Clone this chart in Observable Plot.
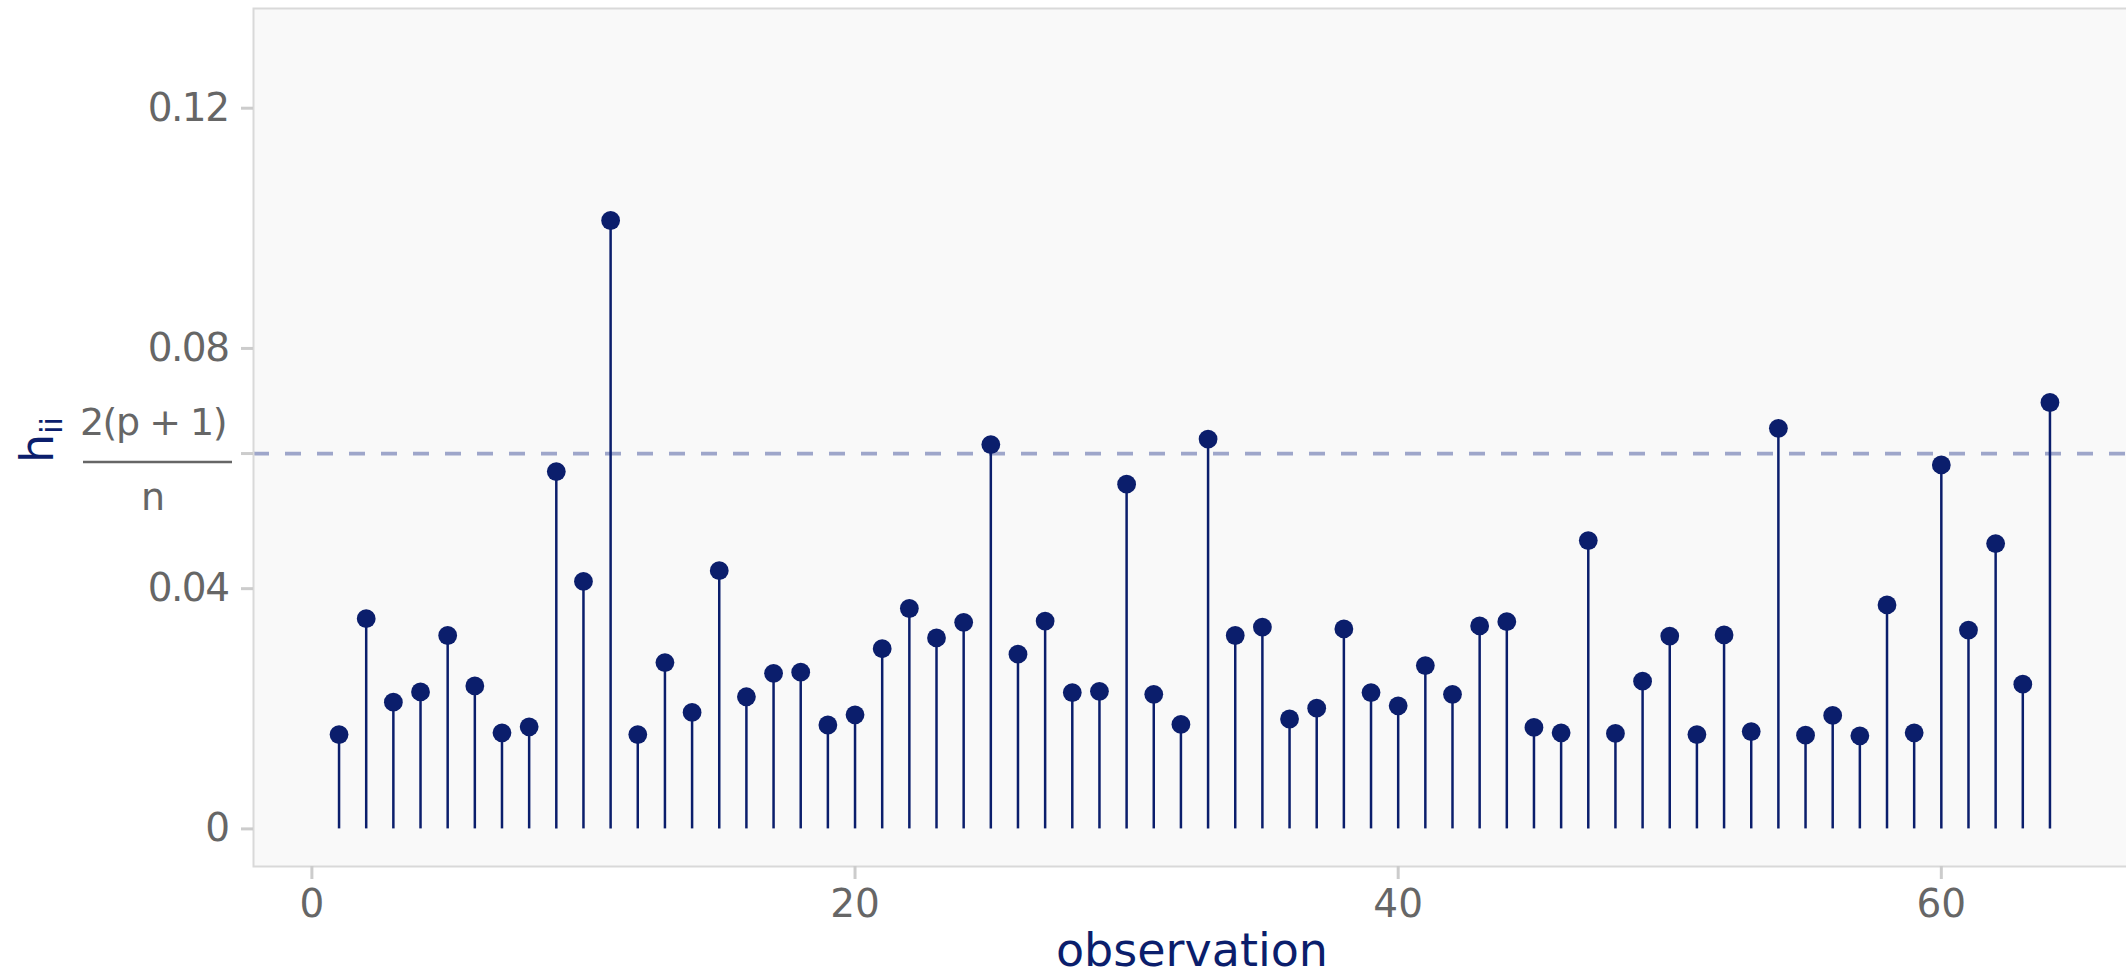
<!DOCTYPE html>
<html>
<head>
<meta charset="utf-8">
<script src="https://cdn.jsdelivr.net/npm/d3@7"></script>
<script src="https://cdn.jsdelivr.net/npm/@observablehq/plot@0.6"></script>
<style>
  html, body { margin: 0; padding: 0; background: white; overflow: hidden; }
</style>
</head>
<body>
<div id="chart"></div>
<script>
// Leverage values h_ii for observations 1..64
const leverage = [
  0.0157, 0.0350, 0.0211, 0.0228, 0.0322, 0.0238, 0.0160, 0.0170, 0.0595, 0.0412,
  0.1013, 0.0157, 0.0277, 0.0194, 0.0430, 0.0220, 0.0259, 0.0261, 0.0173, 0.0190,
  0.0300, 0.0367, 0.0318, 0.0344, 0.0640, 0.0291, 0.0346, 0.0227, 0.0229, 0.0574,
  0.0224, 0.0174, 0.0649, 0.0322, 0.0336, 0.0183, 0.0201, 0.0333, 0.0227, 0.0205,
  0.0272, 0.0224, 0.0338, 0.0345, 0.0169, 0.0160, 0.0480, 0.0159, 0.0246, 0.0321,
  0.0157, 0.0323, 0.0162, 0.0667, 0.0156, 0.0189, 0.0155, 0.0373, 0.0160, 0.0606,
  0.0331, 0.0475, 0.0241, 0.0710
];
const observation = leverage.map((_, i) => i + 1);
const threshold = 0.0625;               // 2(p + 1) / n with p = 1, n = 64
const yTicks = [0, 0.04, 0.08, 0.12];
const xTicks = [0, 20, 40, 60];
const xDomain = [-2.15, 67.15];
const yDomain = [-0.00626, 0.1366];

const navy = "#0b1e6c";
const grey = "#666666";
const tickGrey = "#cccccc";

const data = observation.map((o, i) => ({obs: o, h: leverage[i]}));

const plot = Plot.plot({
  width: 2140,
  height: 978,
  marginLeft: 253,
  marginRight: 5,
  marginTop: 8,
  marginBottom: 112,
  style: {fontFamily: "DejaVu Sans", background: "white", overflow: "visible", maxWidth: "none"},
  x: {domain: xDomain},
  y: {domain: yDomain},
  marks: [
    Plot.frame({fill: "#f9f9f9"}),
    Plot.ruleY([threshold], {stroke: "#9ea6ca", strokeWidth: 3.8, strokeDasharray: "16,16"}),
    Plot.ruleX(data, {x: "obs", y1: 0, y2: "h", stroke: navy, strokeWidth: 2.5}),
    Plot.dot(data, {x: "obs", y: "h", r: 9.4, fill: navy, stroke: "none"}),
    Plot.frame({stroke: "#d9d9d9", strokeWidth: 2}),
    Plot.axisY({
      ticks: [...yTicks, threshold], tickSize: 12, tickPadding: 13,
      tickFormat: d => d === threshold ? "" : String(d),
      fontSize: 39, stroke: tickGrey, strokeWidth: 3, fill: grey, label: null
    }),
    Plot.axisX({
      ticks: xTicks, tickSize: 13, tickPadding: 10,
      tickFormat: d => String(d),
      fontSize: 39, stroke: tickGrey, strokeWidth: 3, fill: grey, label: null
    })
  ]
});

document.getElementById("chart").appendChild(plot);

const svg = d3.select(plot);
svg.style("display", "block");
svg.selectAll('[aria-label="y-axis tick label"] text').attr("letter-spacing", "-1.5px");

const xs = plot.scale("x");
const ys = plot.scale("y");
const ty = ys.apply(threshold);
const xMid = (xs.range[0] + xs.range[1]) / 2 - 2;
const yMid = (ys.range[0] + ys.range[1]) / 2 + 3;

// x axis title
svg.append("text")
  .attr("x", xMid).attr("y", 966)
  .attr("text-anchor", "middle")
  .attr("font-family", "DejaVu Sans")
  .attr("font-size", 46)
  .attr("fill", navy)
  .text("observation");

// y axis title h_ii (rotated)
const yt = svg.append("text")
  .attr("transform", `translate(53,${yMid}) rotate(-90)`)
  .attr("text-anchor", "middle")
  .attr("font-family", "DejaVu Sans")
  .attr("font-size", 46)
  .attr("fill", navy);
yt.append("tspan").text("h");
yt.append("tspan").attr("font-size", 30).attr("dy", 9).text("ii");

// fraction tick label at the threshold
const fx = 153;
const frac = svg.append("g").attr("fill", grey).attr("font-family", "DejaVu Sans").attr("font-size", 38);
frac.append("text").attr("x", fx).attr("y", ty - 18).attr("text-anchor", "middle")
  .attr("letter-spacing", "-1.5px").text("2(p + 1)");
frac.append("line").attr("x1", 83).attr("x2", 232).attr("y1", ty + 9).attr("y2", ty + 9)
  .attr("stroke", grey).attr("stroke-width", 2.5);
frac.append("text").attr("x", fx).attr("y", ty + 57).attr("text-anchor", "middle").text("n");
</script>
</body>
</html>
